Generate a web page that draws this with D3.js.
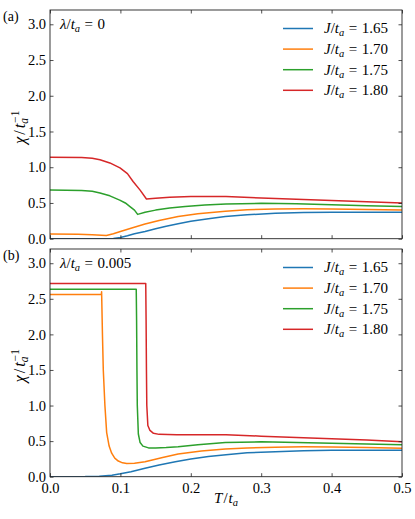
<!DOCTYPE html>
<html>
<head>
<meta charset="utf-8">
<script src="https://cdn.jsdelivr.net/npm/d3@7"></script>
<style>
  body { margin: 0; background: #fff; }
</style>
</head>
<body>
<svg id="chart" width="415" height="519"></svg>
<script>
// ---------------- data ----------------
const jLabels = ["1.65", "1.70", "1.75", "1.80"];
const colors = ["#1f77b4", "#ff7f0e", "#2ca02c", "#d62728"];
const xTicks = [0.0, 0.1, 0.2, 0.3, 0.4, 0.5];
const yTicks = [0.0, 0.5, 1.0, 1.5, 2.0, 2.5, 3.0];
const panelLabels = ["(a)", "(b)"];
const lambdaLabels = ["0", "0.005"];

// panel (a): lambda/t_a = 0   — [T/t_a, chi]
const a165 = [[0,0],[0.08,0],[0.09,0.003],[0.1,0.018],[0.11,0.042],[0.12,0.07],[0.135,0.10],[0.15,0.14],[0.165,0.175],[0.182,0.21],[0.2,0.245],[0.225,0.28],[0.249,0.31],[0.28,0.335],[0.32,0.355],[0.36,0.365],[0.4,0.37],[0.45,0.37],[0.5,0.37]];
const a170 = [[0,0.065],[0.04,0.063],[0.06,0.056],[0.08,0.045],[0.09,0.07],[0.1,0.10],[0.115,0.145],[0.135,0.205],[0.155,0.255],[0.182,0.31],[0.21,0.35],[0.249,0.385],[0.28,0.405],[0.32,0.415],[0.36,0.42],[0.4,0.417],[0.45,0.41],[0.5,0.40]];
const a175 = [[0,0.68],[0.045,0.675],[0.06,0.665],[0.071,0.64],[0.085,0.60],[0.099,0.54],[0.107,0.5],[0.1136,0.45],[0.12,0.40],[0.1245,0.34],[0.135,0.37],[0.15,0.40],[0.17,0.43],[0.192,0.45],[0.22,0.47],[0.25,0.485],[0.3,0.495],[0.35,0.49],[0.4,0.475],[0.45,0.462],[0.5,0.45]];
const a180 = [[0,1.14],[0.045,1.135],[0.06,1.125],[0.071,1.105],[0.085,1.06],[0.0994,0.99],[0.11,0.91],[0.118,0.80],[0.128,0.68],[0.137,0.556],[0.15,0.566],[0.17,0.58],[0.2,0.59],[0.25,0.59],[0.3,0.57],[0.35,0.552],[0.4,0.535],[0.45,0.518],[0.5,0.50]];

// panel (b): lambda/t_a = 0.005
const b165 = [[0,0],[0.05,0.002],[0.07,0.008],[0.088,0.02],[0.1,0.04],[0.115,0.07],[0.135,0.12],[0.155,0.165],[0.178,0.21],[0.2,0.25],[0.225,0.285],[0.25,0.31],[0.28,0.335],[0.32,0.352],[0.36,0.365],[0.4,0.37],[0.45,0.37],[0.5,0.37]];
const b170 = [[0,2.56],[0.073,2.56],[0.0733,2.60],[0.0745,2.0],[0.0757,1.5],[0.078,1.0],[0.0805,0.62],[0.084,0.43],[0.0876,0.33],[0.092,0.26],[0.097,0.22],[0.103,0.195],[0.109,0.185],[0.12,0.188],[0.135,0.21],[0.16,0.27],[0.182,0.32],[0.215,0.36],[0.249,0.39],[0.28,0.405],[0.32,0.415],[0.36,0.42],[0.4,0.417],[0.45,0.41],[0.5,0.40]];
const b175 = [[0,2.635],[0.1225,2.635],[0.123,2.2],[0.1235,1.5],[0.124,1.0],[0.1255,0.6],[0.128,0.48],[0.132,0.43],[0.14,0.405],[0.15,0.405],[0.165,0.41],[0.182,0.42],[0.21,0.45],[0.249,0.48],[0.3,0.49],[0.35,0.48],[0.4,0.47],[0.45,0.46],[0.5,0.45]];
const b180 = [[0,2.715],[0.136,2.715],[0.1365,2.2],[0.137,1.5],[0.1375,1.0],[0.139,0.72],[0.142,0.65],[0.147,0.61],[0.155,0.595],[0.18,0.59],[0.25,0.59],[0.3,0.57],[0.35,0.55],[0.4,0.535],[0.45,0.515],[0.5,0.49]];

const panelSeries = [[a165, a170, a175, a180], [b165, b170, b175, b180]];

// ---------------- layout ----------------
const FONT = "Liberation Serif";
const svg = d3.select("#chart");
const left = 50, right = 402;
const panels = [{top: 10, bottom: 238.7}, {top: 249, bottom: 476.7}];
const x = d3.scaleLinear().domain([0, 0.5]).range([left, right]);

// parts: [text, italic, kind, dx]
function mathText(sel, parts, size) {
  sel.attr("font-family", FONT).attr("font-size", size);
  parts.forEach(p => {
    const t = sel.append("tspan").text(p[0]).attr("font-family", FONT);
    if (p[1]) t.attr("font-style", "italic");
    if (p[2] === "sub") t.attr("font-size", size * 0.7).attr("dy", 3);
    if (p[2] === "back") t.attr("dy", -3);
    if (p[2] === "sup") t.attr("font-size", size * 0.7).attr("dx", -5).attr("dy", -9.5);
    if (p[3] !== undefined) t.attr("dx", p[3]);
  });
}

panels.forEach((p, i) => {
  const y = d3.scaleLinear().domain([0, 3.2]).range([p.bottom, p.top]);
  const g = svg.append("g");
  const clipId = "clip" + i;
  svg.append("clipPath").attr("id", clipId).append("rect")
    .attr("x", left).attr("y", p.top).attr("width", right - left).attr("height", p.bottom - p.top);

  const line = d3.line().x(d => x(d[0])).y(d => y(d[1])).curve(d3.curveLinear);
  panelSeries[i].forEach((s, k) => {
    g.append("path").attr("d", line(s)).attr("fill", "none")
      .attr("stroke", colors[k]).attr("stroke-width", 1.5)
      .attr("stroke-linejoin", "round")
      .attr("clip-path", `url(#${clipId})`);
  });

  const ax = (gen) => gen.tickSizeInner(-3.5).tickSizeOuter(0).tickPadding(6);
  const bottomAx = g.append("g").attr("transform", `translate(0,${p.bottom})`)
    .call(ax(d3.axisBottom(x)).tickValues(xTicks).tickFormat(i === 1 ? d3.format(".1f") : () => ""));
  const topAx = g.append("g").attr("transform", `translate(0,${p.top})`)
    .call(ax(d3.axisTop(x)).tickValues(xTicks).tickFormat(() => ""));
  const leftAx = g.append("g").attr("transform", `translate(${left},0)`)
    .call(ax(d3.axisLeft(y)).tickValues(yTicks).tickFormat(d3.format(".1f")).tickPadding(4));
  const rightAx = g.append("g").attr("transform", `translate(${right},0)`)
    .call(ax(d3.axisRight(y)).tickValues(yTicks).tickFormat(() => ""));
  [bottomAx, topAx, leftAx, rightAx].forEach(a => {
    a.attr("font-family", FONT).attr("font-size", 14.5);
    a.select(".domain").remove();
    a.selectAll("line").attr("stroke", "#222").attr("stroke-width", 0.8);
    a.selectAll("text").attr("fill", "#000").attr("font-family", FONT).attr("font-size", 14.5);
  });
  bottomAx.selectAll("text").attr("dy", "0.75em").attr("y", 5);

  g.append("rect").attr("x", left).attr("y", p.top).attr("width", right - left).attr("height", p.bottom - p.top)
    .attr("fill", "none").attr("stroke", "#222").attr("stroke-width", 0.9);

  g.append("text").attr("x", 3).attr("y", p.top + 11).attr("font-family", FONT)
    .attr("font-size", 14).text(panelLabels[i]);

  const lt = g.append("text").attr("x", 60).attr("y", p.top + 18.5);
  mathText(lt, [["λ", true], ["/", false], ["t", true], ["a", true, "sub"],
                ["=", false, "back", 4.5], [lambdaLabels[i], false, "n", 4.5]], 15);

  jLabels.forEach((lab, k) => {
    const ly = p.top + 18.5 + k * 20.6;
    g.append("line").attr("x1", 283).attr("x2", 313).attr("y1", ly).attr("y2", ly)
      .attr("stroke", colors[k]).attr("stroke-width", 1.5);
    const t = g.append("text").attr("x", 324).attr("y", ly + 4.8);
    mathText(t, [["J", true], ["/", false], ["t", true], ["a", true, "sub"],
                 ["=", false, "back", 4.5], [lab, false, "n", 4.5]], 15);
  });

  const cy = (p.top + p.bottom) / 2 + 3;
  const yl = g.append("text").attr("transform", `translate(25,${cy}) rotate(-90)`)
    .attr("text-anchor", "middle");
  mathText(yl, [["χ", true], ["/", false, "n", 2], ["t", true, "n", 2], ["a", true, "sub"], ["−1", false, "sup"]], 16.5);
});

const xl = svg.append("text").attr("x", (left + right) / 2).attr("y", 503)
  .attr("text-anchor", "middle");
mathText(xl, [["T", true], ["/", false, "n", 1], ["t", true, "n", 1], ["a", true, "sub"]], 15);
</script>
</body>
</html>
